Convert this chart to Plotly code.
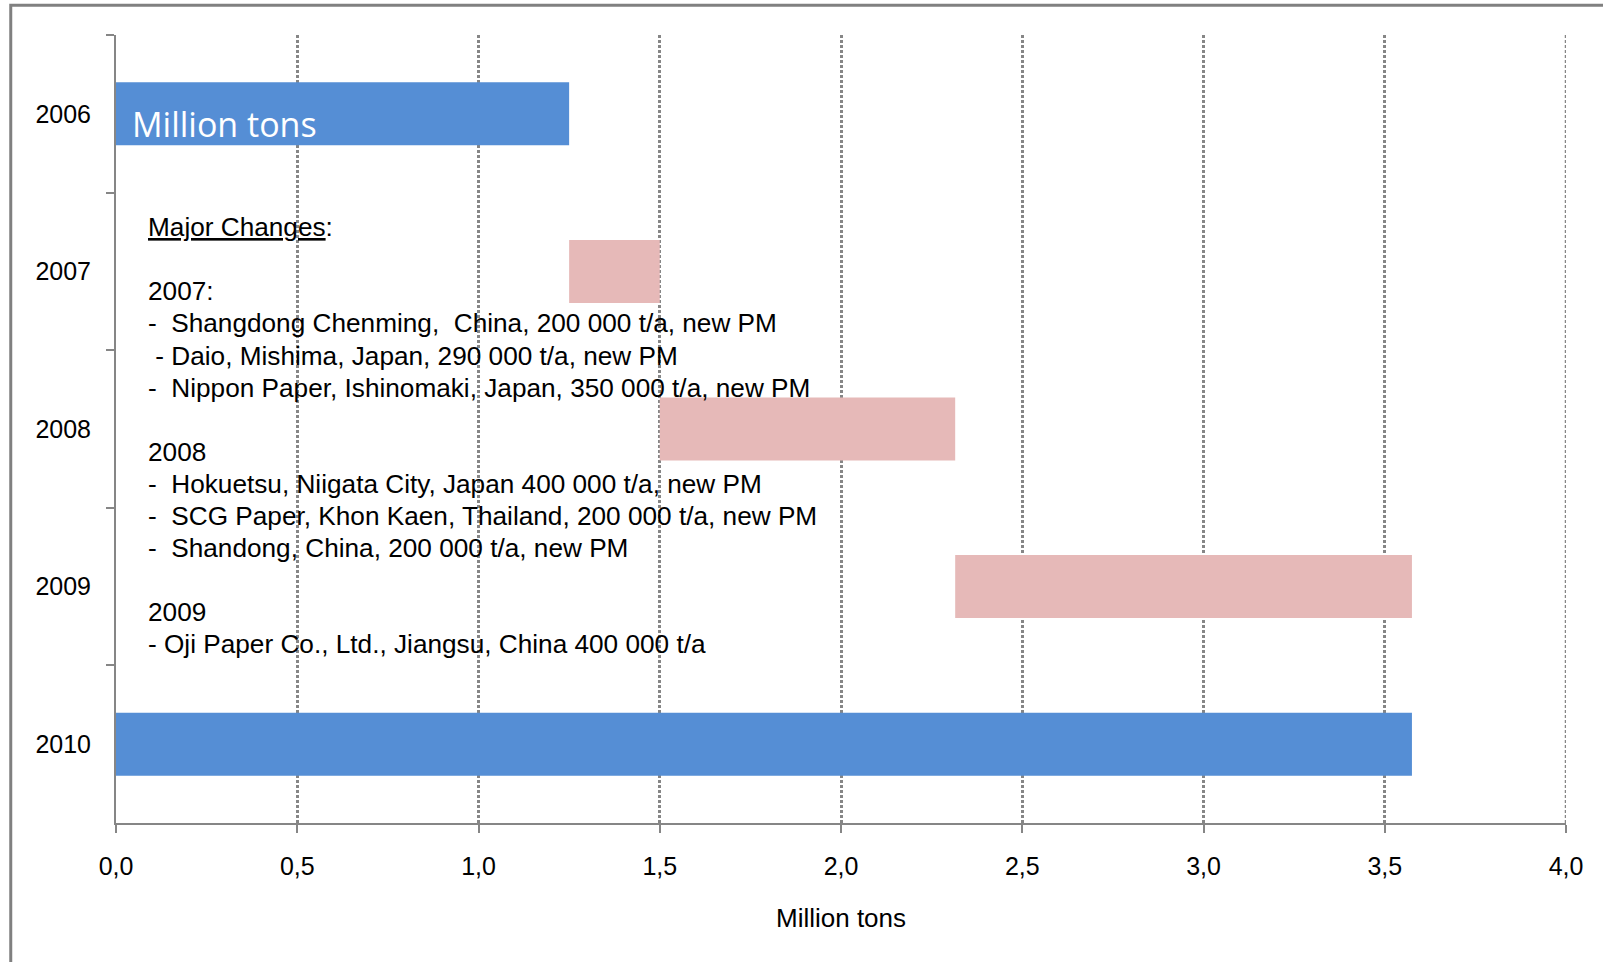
import plotly.graph_objects as go

years = ["2006", "2007", "2008", "2009", "2010"]
# cumulative capacity level at end of each step (million tons)
levels = [1.25, 1.50, 2.315, 3.575, 3.575]
kinds = ["total", "change", "change", "change", "total"]
x_ticks = [0.0, 0.5, 1.0, 1.5, 2.0, 2.5, 3.0, 3.5, 4.0]

notes = [
    "<u>Major Changes</u>:",
    "",
    "2007:",
    "-\u00a0 Shangdong Chenming,\u00a0 China, 200 000 t/a, new PM",
    "\u00a0- Daio, Mishima, Japan, 290 000 t/a, new PM",
    "-\u00a0 Nippon Paper, Ishinomaki, Japan, 350 000 t/a, new PM",
    "",
    "2008",
    "-\u00a0 Hokuetsu, Niigata City, Japan 400 000 t/a, new PM",
    "-\u00a0 SCG Paper, Khon Kaen, Thailand, 200 000 t/a, new PM",
    "-\u00a0 Shandong, China, 200 000 t/a, new PM",
    "",
    "2009",
    "- Oji Paper Co., Ltd., Jiangsu, China 400 000 t/a",
]

BLUE = "#558ED5"
PINK = "#E6B9B8"
GRAY = "#868686"

bases, widths, colors = [], [], []
prev = 0.0
for lv, k in zip(levels, kinds):
    if k == "total":
        bases.append(0.0)
        widths.append(lv)
        colors.append(BLUE)
    else:
        bases.append(prev)
        widths.append(lv - prev)
        colors.append(PINK)
    prev = lv

fig = go.Figure()
fig.add_trace(go.Bar(
    y=years, x=widths, base=bases, orientation="h",
    marker=dict(color=colors, line=dict(width=0)),
    width=0.4, hoverinfo="skip", showlegend=False,
))

# the page is photographed at a slight zoom-out; work in reference pixels
S = 1 / 0.978
W, H = round(1603 * S), round(962 * S)
ml, mr, mt, mb = 113 * S, W - 1532 * S, 34 * S, H - 805 * S
pw, ph = W - ml - mr, H - mt - mb

def px_x(p):
    return (p * S - ml) / pw

def px_y(p):
    return (H - mb - p * S) / ph

FONT = "Liberation Sans, Arial, sans-serif"

fig.update_layout(
    width=W, height=H,
    margin=dict(l=ml, r=mr, t=mt, b=mb, autoexpand=False),
    paper_bgcolor="white", plot_bgcolor="white",
    separators=",.",
    font=dict(family=FONT, size=25, color="black"),
    xaxis=dict(
        range=[x_ticks[0], x_ticks[-1]], tickvals=x_ticks, tickformat=".1f",
        showgrid=True, gridcolor=GRAY, gridwidth=2.5, griddash="3px,2px",
        showline=True, linecolor=GRAY, linewidth=2,
        ticks="outside", ticklen=8, tickwidth=2, tickcolor=GRAY,
        zeroline=False, ticklabelstandoff=12,
        title=dict(text="Million tons", standoff=30, font=dict(size=26)),
        tickfont=dict(size=25),
    ),
    yaxis=dict(
        type="category", categoryorder="array", categoryarray=years,
        autorange="reversed",
        showline=True, linecolor=GRAY, linewidth=2,
        ticks="outside", ticklen=8, tickwidth=2, tickcolor=GRAY,
        tickson="boundaries", showgrid=False, zeroline=False,
        tickfont=dict(size=25), ticklabelstandoff=18,
    ),
)

# gridline at the right end of the range (plotly drops the edge gridline)
fig.add_shape(type="line", xref="x", yref="paper",
              x0=x_ticks[-1], x1=x_ticks[-1], y0=0, y1=1,
              line=dict(color=GRAY, width=2.5, dash="3px,2px"), layer="below")

# frame around the chart
fig.add_shape(type="rect", xref="paper", yref="paper",
              x0=px_x(10), x1=px_x(1700), y0=px_y(1100), y1=px_y(5),
              line=dict(color="#808080", width=3), fillcolor="rgba(0,0,0,0)",
              layer="above")

fig.add_annotation(
    xref="paper", yref="paper", x=px_x(127), y=px_y(121),
    xanchor="left", yanchor="middle", showarrow=False,
    text="Million tons", font=dict(family="Open Sans, sans-serif", size=34, color="white"),
)

line_top, line_step = 222, 31.4
for i, t in enumerate(notes):
    if not t:
        continue
    fig.add_annotation(
        xref="paper", yref="paper", x=px_x(142), y=px_y(line_top + i * line_step),
        xanchor="left", yanchor="middle", align="left", showarrow=False,
        text=t, font=dict(family=FONT, size=26.2, color="black"),
    )

fig.write_html(
    "out.html",
    config={"displayModeBar": False},
    post_script="document.body.style.margin='0px';document.body.style.overflow='hidden';",
)
